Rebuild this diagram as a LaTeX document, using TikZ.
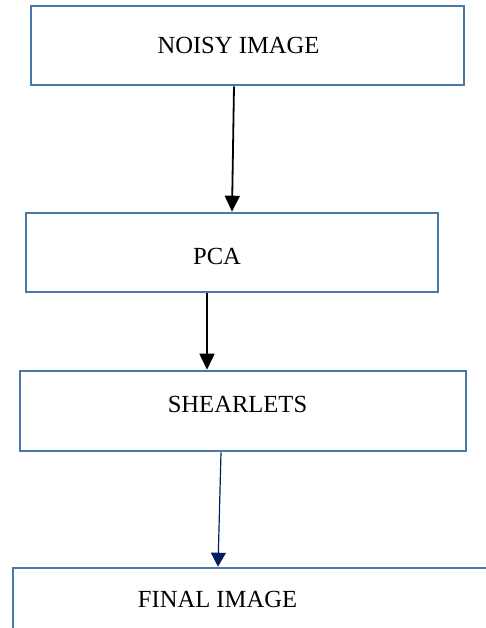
\documentclass[tikz,border=0pt]{standalone}
\usepackage{fontspec}
\setmainfont{Liberation Serif}
\usetikzlibrary{arrows.meta,calc}
\definecolor{boxblue}{HTML}{4A78A8}
\definecolor{navy}{HTML}{002060}

\begin{document}
\begin{tikzpicture}[x=0.5pt, y=-0.5pt,
  stagebox/.style={rectangle, draw=boxblue, line width=1.3pt, fill=white, inner sep=0pt},
  caption/.style={inner sep=0pt, font=\fontsize{12.3}{14}\selectfont},
  arr/.style={-{Triangle[length=8pt, width=7.5pt]}, line width=0.9pt, black},
  arrnavy/.style={-{Triangle[length=7pt, width=7.5pt]}, line width=0.6pt, navy}
]
  \useasboundingbox (0,0) rectangle (486,628);
  \clip (0,0) rectangle (486,628);

  \node[stagebox, minimum width=216.5pt, minimum height=39.5pt] (noisy) at (247.5,45.5) {};
  \node[stagebox, minimum width=206pt, minimum height=39.5pt] (pca) at (232,252.5) {};
  \node[stagebox, minimum width=223pt, minimum height=40pt] (shear) at (243,411) {};
  \node[stagebox, minimum width=253.5pt, minimum height=40pt] (final) at (266.5,608) {};

  \node[caption] (noisytext) at (238.5,45.5) {NOISY IMAGE};
  \node[caption] (pcatext) at (217,256) {PCA};
  \node[caption] (sheartext) at (237.5,404) {SHEARLETS};
  \node[caption] (finaltext) at (217.5,599) {FINAL IMAGE};

  % connectors
  \draw[arr] ($(noisy.south)+(-13.5,0)$) -- (pca.north);
  \draw[arr] ($(pca.south)+(-25,0)$) -- ($(shear.north)+(-36,0)$);
  \draw[arrnavy] ($(shear.south)+(-22,0)$) -- ($(final.north)+(-48.5,0)$);
\end{tikzpicture}
\end{document}
